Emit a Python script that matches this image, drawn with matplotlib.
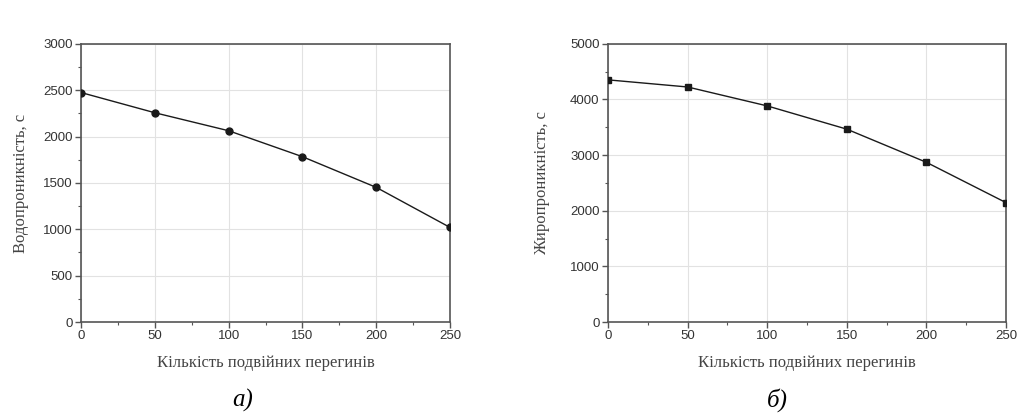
import matplotlib
matplotlib.use("Agg")
import matplotlib.pyplot as plt
from matplotlib.ticker import MultipleLocator

# Data
bends = [0, 50, 100, 150, 200, 250]
water = [2475, 2257, 2063, 1783, 1452, 1020]
fat = [4353, 4225, 3885, 3467, 2871, 2146]

xlabel = "Кількість подвійних перегинів"
ylabel_a = "Водопроникність, с"
ylabel_b = "Жиропроникність, с"
captions = ["а)", "б)"]

fig = plt.figure(figsize=(10.18, 4.17), dpi=100)
ax1 = fig.add_axes([0.0796, 0.2278, 0.3625, 0.667])
ax2 = fig.add_axes([0.5972, 0.2278, 0.391, 0.667])

spine_c = "#555555"
tick_c = "#333333"

def style(ax, ymax, ymajor, yminor, ylabel, ypad):
    ax.set_xlim(0, 250)
    ax.set_ylim(0, ymax)
    ax.xaxis.set_major_locator(MultipleLocator(50))
    ax.xaxis.set_minor_locator(MultipleLocator(25))
    ax.yaxis.set_major_locator(MultipleLocator(ymajor))
    ax.yaxis.set_minor_locator(MultipleLocator(yminor))
    ax.grid(True, which="major", color="#e2e2e2", linewidth=0.8)
    ax.set_axisbelow(True)
    for s in ax.spines.values():
        s.set_color(spine_c)
        s.set_linewidth(1.2)
    ax.tick_params(which="major", direction="out", length=4, width=1, color=spine_c,
                   labelsize=9.5, labelcolor=tick_c, pad=2)
    ax.tick_params(which="minor", direction="out", length=2, width=0.8, color=spine_c)
    for lab in ax.get_xticklabels() + ax.get_yticklabels():
        lab.set_family("Liberation Sans")
    ax.set_xlabel(xlabel, family="Liberation Serif", fontsize=12, color="#444444", labelpad=9)
    ax.set_ylabel(ylabel, family="Liberation Serif", fontsize=12, color="#444444", labelpad=ypad)

ax1.plot(bends, water, color="#1a1a1a", linewidth=1.0, marker="o", markersize=5,
         markerfacecolor="#1a1a1a", markeredgecolor="#1a1a1a", zorder=3)
ax2.plot(bends, fat, color="#1a1a1a", linewidth=1.0, marker="s", markersize=4.5,
         markerfacecolor="#1a1a1a", markeredgecolor="#1a1a1a", zorder=3)

style(ax1, 3000, 500, 250, ylabel_a, 10)
style(ax2, 5000, 1000, 500, ylabel_b, 14)

fig.text(0.238, 0.04, captions[0], family="Liberation Serif", style="italic",
         fontsize=18, ha="center", va="center")
fig.text(0.764, 0.04, captions[1], family="Liberation Serif", style="italic",
         fontsize=18, ha="center", va="center")

fig.savefig("out.png", dpi=100, facecolor="white")
